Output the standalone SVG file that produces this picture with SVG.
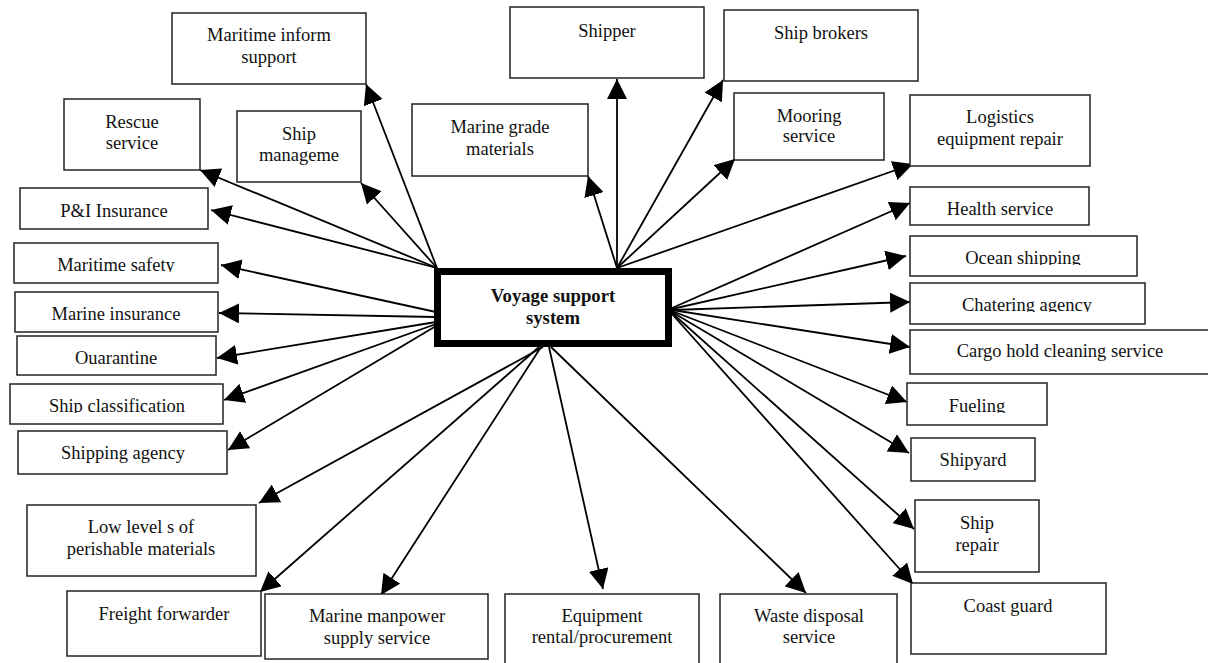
<svg xmlns="http://www.w3.org/2000/svg" width="1208" height="663" viewBox="0 0 1208 663">
  <style>
    .box { fill: #ffffff; stroke: #222222; stroke-width: 1.5; }
    .hub { fill: #ffffff; stroke: #000000; stroke-width: 7; }
    .lbl { font-family: "Liberation Serif", "Times New Roman", serif; font-size: 18.5px; fill: #111111; text-anchor: middle; }
    .hubtxt { font-family: "Liberation Serif", "Times New Roman", serif; font-size: 18.7px; font-weight: bold; fill: #111111; text-anchor: middle; }
    .link { stroke: #000000; stroke-width: 1.8; fill: none; marker-end: url(#arrow); }
  </style>
  <defs>
    <marker id="arrow" markerUnits="userSpaceOnUse" markerWidth="20" markerHeight="20" refX="20" refY="10" orient="auto">
      <path d="M0,0 L20,10 L0,20 z" fill="#000000"/>
    </marker>
    <!-- labels whose descenders are cut off at the baseline -->
    <clipPath id="clipSafety"><rect x="0" y="240" width="230" height="32"/></clipPath>
    <clipPath id="clipQuar"><rect x="0" y="336" width="230" height="29"/></clipPath>
    <clipPath id="clipClass"><rect x="0" y="384" width="230" height="29"/></clipPath>
    <clipPath id="clipOcean"><rect x="900" y="236" width="250" height="29"/></clipPath>
    <clipPath id="clipCharter"><rect x="900" y="283" width="250" height="29"/></clipPath>
    <clipPath id="clipFuel"><rect x="900" y="383" width="160" height="30"/></clipPath>
  </defs>

  <!-- connectors from the hub to every service -->
  <g id="connectors">
    <line class="link" x1="437" y1="268" x2="366" y2="84"/>
    <line class="link" x1="437" y1="268" x2="361" y2="183"/>
    <line class="link" x1="437" y1="268" x2="200" y2="170"/>
    <line class="link" x1="437" y1="268" x2="211" y2="210"/>
    <line class="link" x1="436" y1="312" x2="221" y2="265"/>
    <line class="link" x1="436" y1="317" x2="219" y2="313"/>
    <line class="link" x1="436" y1="322" x2="217" y2="358"/>
    <line class="link" x1="436" y1="324" x2="224" y2="400"/>
    <line class="link" x1="436" y1="326" x2="228" y2="450"/>
    <line class="link" x1="543" y1="347" x2="259" y2="503"/>
    <line class="link" x1="539" y1="347" x2="260" y2="592"/>
    <line class="link" x1="541" y1="347" x2="381" y2="595"/>
    <line class="link" x1="549" y1="347" x2="603" y2="589"/>
    <line class="link" x1="551" y1="347" x2="806" y2="593"/>
    <line class="link" x1="672" y1="314" x2="913" y2="584"/>
    <line class="link" x1="672" y1="313" x2="914" y2="529"/>
    <line class="link" x1="672" y1="312" x2="909" y2="453"/>
    <line class="link" x1="672" y1="311" x2="907" y2="402"/>
    <line class="link" x1="672" y1="310" x2="910" y2="347"/>
    <line class="link" x1="672" y1="310" x2="910" y2="302"/>
    <line class="link" x1="672" y1="309" x2="906" y2="256"/>
    <line class="link" x1="672" y1="308" x2="910" y2="203"/>
    <line class="link" x1="617" y1="268" x2="913" y2="164"/>
    <line class="link" x1="617" y1="268" x2="735" y2="159"/>
    <line class="link" x1="617" y1="268" x2="723" y2="80"/>
    <line class="link" x1="617" y1="268" x2="617" y2="79"/>
    <line class="link" x1="617" y1="268" x2="588" y2="176"/>
  </g>

  <!-- central hub -->
  <g id="hub">
    <rect class="hub" x="437.5" y="271.5" width="231" height="72"/>
    <text class="hubtxt" x="553" y="302">Voyage support</text>
    <text class="hubtxt" x="553" y="324">system</text>
  </g>

  <!-- top row -->
  <g id="maritime-inform">
    <rect class="box" x="172" y="13" width="194" height="71"/>
    <text class="lbl" x="269" y="41">Maritime inform</text>
    <text class="lbl" x="269" y="63">support</text>
  </g>
  <g id="shipper">
    <rect class="box" x="510" y="7" width="194" height="71"/>
    <text class="lbl" x="607" y="37">Shipper</text>
  </g>
  <g id="ship-brokers">
    <rect class="box" x="724" y="10" width="194" height="71"/>
    <text class="lbl" x="821" y="39">Ship brokers</text>
  </g>
  <g id="rescue">
    <rect class="box" x="64" y="99" width="136" height="71"/>
    <text class="lbl" x="132" y="128">Rescue</text>
    <text class="lbl" x="132" y="149">service</text>
  </g>
  <g id="ship-management">
    <rect class="box" x="237" y="111" width="124" height="71"/>
    <text class="lbl" x="299" y="140">Ship</text>
    <text class="lbl" x="299" y="161">manageme</text>
  </g>
  <g id="marine-grade">
    <rect class="box" x="412" y="104" width="176" height="72"/>
    <text class="lbl" x="500" y="133">Marine grade</text>
    <text class="lbl" x="500" y="155">materials</text>
  </g>
  <g id="mooring">
    <rect class="box" x="734" y="93" width="150" height="67"/>
    <text class="lbl" x="809" y="122">Mooring</text>
    <text class="lbl" x="809" y="142">service</text>
  </g>
  <g id="logistics">
    <rect class="box" x="910" y="95" width="180" height="71"/>
    <text class="lbl" x="1000" y="123">Logistics</text>
    <text class="lbl" x="1000" y="145">equipment repair</text>
  </g>

  <!-- left column -->
  <g id="pi-insurance">
    <rect class="box" x="20" y="188" width="188" height="41"/>
    <text class="lbl" x="114" y="217">P&amp;I Insurance</text>
  </g>
  <g id="maritime-safety">
    <rect class="box" x="14" y="243" width="204" height="40"/>
    <text class="lbl" x="116" y="271" clip-path="url(#clipSafety)">Maritime safety</text>
  </g>
  <g id="marine-insurance">
    <rect class="box" x="15" y="292" width="203" height="40"/>
    <text class="lbl" x="116" y="320">Marine insurance</text>
  </g>
  <g id="quarantine">
    <rect class="box" x="17" y="336" width="199" height="39"/>
    <text class="lbl" x="116" y="364" clip-path="url(#clipQuar)">Ouarantine</text>
  </g>
  <g id="ship-classification">
    <rect class="box" x="10" y="384" width="213" height="40"/>
    <text class="lbl" x="117" y="412" clip-path="url(#clipClass)">Ship classification</text>
  </g>
  <g id="shipping-agency">
    <rect class="box" x="18" y="431" width="209" height="43"/>
    <text class="lbl" x="123" y="459">Shipping agency</text>
  </g>
  <g id="perishables">
    <rect class="box" x="27" y="505" width="229" height="71"/>
    <text class="lbl" x="141" y="533">Low level s of</text>
    <text class="lbl" x="141" y="555">perishable materials</text>
  </g>

  <!-- bottom row -->
  <g id="freight-forwarder">
    <rect class="box" x="67" y="591" width="194" height="65"/>
    <text class="lbl" x="164" y="620">Freight forwarder</text>
  </g>
  <g id="manpower">
    <rect class="box" x="265" y="594" width="223" height="65"/>
    <text class="lbl" x="377" y="622">Marine manpower</text>
    <text class="lbl" x="377" y="644">supply service</text>
  </g>
  <g id="equipment">
    <rect class="box" x="505" y="594" width="194" height="75"/>
    <text class="lbl" x="602" y="622">Equipment</text>
    <text class="lbl" x="602" y="643">rental/procurement</text>
  </g>
  <g id="waste">
    <rect class="box" x="720" y="594" width="177" height="75"/>
    <text class="lbl" x="809" y="622">Waste disposal</text>
    <text class="lbl" x="809" y="643">service</text>
  </g>

  <!-- right column -->
  <g id="health">
    <rect class="box" x="910" y="187" width="179" height="38"/>
    <text class="lbl" x="1000" y="215">Health service</text>
  </g>
  <g id="ocean-shipping">
    <rect class="box" x="910" y="236" width="227" height="40"/>
    <text class="lbl" x="1023" y="264" clip-path="url(#clipOcean)">Ocean shipping</text>
  </g>
  <g id="chartering">
    <rect class="box" x="910" y="283" width="235" height="41"/>
    <text class="lbl" x="1027" y="311" clip-path="url(#clipCharter)">Chatering agency</text>
  </g>
  <g id="cargo-cleaning">
    <rect class="box" x="910" y="330" width="302" height="44"/>
    <text class="lbl" x="1060" y="357">Cargo hold cleaning service</text>
  </g>
  <g id="fueling">
    <rect class="box" x="907" y="383" width="140" height="42"/>
    <text class="lbl" x="977" y="412" clip-path="url(#clipFuel)">Fueling</text>
  </g>
  <g id="shipyard">
    <rect class="box" x="911" y="438" width="124" height="43"/>
    <text class="lbl" x="973" y="466">Shipyard</text>
  </g>
  <g id="ship-repair">
    <rect class="box" x="915" y="500" width="124" height="72"/>
    <text class="lbl" x="977" y="529">Ship</text>
    <text class="lbl" x="977" y="551">repair</text>
  </g>
  <g id="coast-guard">
    <rect class="box" x="911" y="583" width="195" height="71"/>
    <text class="lbl" x="1008" y="612">Coast guard</text>
  </g>
</svg>
